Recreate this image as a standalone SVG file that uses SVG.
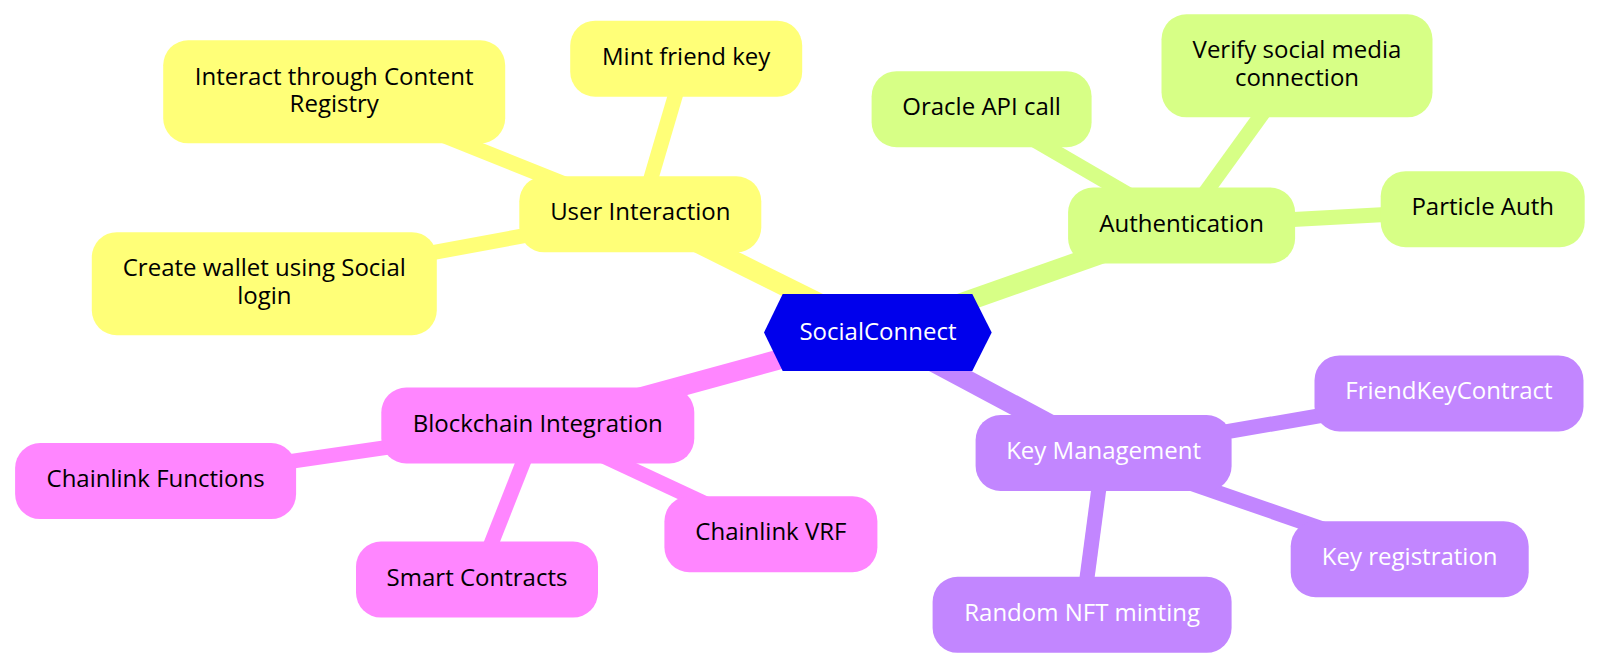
<svg xmlns="http://www.w3.org/2000/svg" width="1600" height="668" viewBox="0 0 1600 668">
<style>
  text { font-family: "Open Sans", "Noto Sans", "DejaVu Sans", sans-serif; font-size: 24px; text-anchor: middle; }
  .edge { fill: none; stroke-linecap: butt; }
  .d1 { stroke-width: 20; }
  .d2 { stroke-width: 15; }
  .s1 { stroke: #ffff78; } .f1 { fill: #ffff78; }
  .s2 { stroke: #d7ff86; } .f2 { fill: #d7ff86; }
  .s3 { stroke: #c286ff; } .f3 { fill: #c286ff; }
  .s4 { stroke: #ff86ff; } .f4 { fill: #ff86ff; }
  .dark { fill: #000000; }
  .light { fill: #ffffff; }
</style>
<rect width="1600" height="668" fill="#ffffff"/>
<g id="connectors">
  <line class="edge d1 s1" x1="878" y1="332.5" x2="640.3" y2="214.3"/>
  <line class="edge d1 s2" x1="878" y1="332.5" x2="1181.6" y2="225.5"/>
  <line class="edge d1 s3" x1="878" y1="332.5" x2="1103.6" y2="453"/>
  <line class="edge d1 s4" x1="878" y1="332.5" x2="537.8" y2="425.5"/>
  <line class="edge d2 s1" x1="640.3" y1="214.3" x2="334.2" y2="91.8"/>
  <line class="edge d2 s1" x1="640.3" y1="214.3" x2="686.2" y2="58.7"/>
  <line class="edge d2 s1" x1="640.3" y1="214.3" x2="264.3" y2="283.7"/>
  <line class="edge d2 s2" x1="1181.6" y1="225.5" x2="981.6" y2="109.2"/>
  <line class="edge d2 s2" x1="1181.6" y1="225.5" x2="1297" y2="65.8"/>
  <line class="edge d2 s2" x1="1181.6" y1="225.5" x2="1482.7" y2="209.2"/>
  <line class="edge d2 s4" x1="537.8" y1="425.5" x2="155.6" y2="481.1"/>
  <line class="edge d2 s4" x1="537.8" y1="425.5" x2="477" y2="579.6"/>
  <line class="edge d2 s4" x1="537.8" y1="425.5" x2="770.9" y2="534.2"/>
  <line class="edge d2 s3" x1="1103.6" y1="453" x2="1449" y2="393.4"/>
  <line class="edge d2 s3" x1="1103.6" y1="453" x2="1409.7" y2="559.2"/>
  <line class="edge d2 s3" x1="1103.6" y1="453" x2="1082.1" y2="614.8"/>
</g>
<g id="root">
  <polygon points="764,332.5 782.7,294 972.3,294 991.7,332.5 972.3,371 782.7,371" fill="#0000ec"/>
  <text class="light" x="878" y="339.5">SocialConnect</text>
</g>
<g id="user-interaction">
  <rect class="f1" x="519.3" y="176.3" width="242" height="76" rx="25"/>
  <text class="dark" x="640.3" y="220.3">User Interaction</text>
</g>
<g id="interact-content-registry">
  <rect class="f1" x="163.2" y="40.3" width="342" height="103" rx="25"/>
  <text class="dark" x="334.2" y="84.5">Interact through Content</text>
  <text class="dark" x="334.2" y="112">Registry</text>
</g>
<g id="mint-friend-key">
  <rect class="f1" x="570.2" y="20.7" width="232" height="76" rx="25"/>
  <text class="dark" x="686.2" y="64.7">Mint friend key</text>
</g>
<g id="create-wallet">
  <rect class="f1" x="91.8" y="232.2" width="345" height="103" rx="25"/>
  <text class="dark" x="264.3" y="276.3">Create wallet using Social</text>
  <text class="dark" x="264.3" y="303.8">login</text>
</g>
<g id="authentication">
  <rect class="f2" x="1068.1" y="187.5" width="227" height="76" rx="25"/>
  <text class="dark" x="1181.6" y="231.5">Authentication</text>
</g>
<g id="oracle-api-call">
  <rect class="f2" x="871.6" y="71.2" width="220" height="76" rx="25"/>
  <text class="dark" x="981.6" y="115.2">Oracle API call</text>
</g>
<g id="verify-social">
  <rect class="f2" x="1161.5" y="14.3" width="271" height="103" rx="25"/>
  <text class="dark" x="1297" y="58.4">Verify social media</text>
  <text class="dark" x="1297" y="85.9">connection</text>
</g>
<g id="particle-auth">
  <rect class="f2" x="1380.7" y="171.2" width="204" height="76" rx="25"/>
  <text class="dark" x="1482.7" y="215.2">Particle Auth</text>
</g>
<g id="blockchain-integration">
  <rect class="f4" x="381.3" y="387.5" width="313" height="76" rx="25"/>
  <text class="dark" x="537.8" y="431.5">Blockchain Integration</text>
</g>
<g id="chainlink-functions">
  <rect class="f4" x="15.1" y="443.1" width="281" height="76" rx="25"/>
  <text class="dark" x="155.6" y="487.1">Chainlink Functions</text>
</g>
<g id="smart-contracts">
  <rect class="f4" x="356" y="541.6" width="242" height="76" rx="25"/>
  <text class="dark" x="477" y="585.6">Smart Contracts</text>
</g>
<g id="chainlink-vrf">
  <rect class="f4" x="664.4" y="496.2" width="213" height="76" rx="25"/>
  <text class="dark" x="770.9" y="540.2">Chainlink VRF</text>
</g>
<g id="key-management">
  <rect class="f3" x="975.6" y="415" width="256" height="76" rx="25"/>
  <text class="light" x="1103.6" y="459">Key Management</text>
</g>
<g id="friendkeycontract">
  <rect class="f3" x="1314.5" y="355.4" width="269" height="76" rx="25"/>
  <text class="light" x="1449" y="399.4">FriendKeyContract</text>
</g>
<g id="key-registration">
  <rect class="f3" x="1290.7" y="521.2" width="238" height="76" rx="25"/>
  <text class="light" x="1409.7" y="565.2">Key registration</text>
</g>
<g id="random-nft-minting">
  <rect class="f3" x="932.6" y="576.8" width="299" height="76" rx="25"/>
  <text class="light" x="1082.1" y="620.8">Random NFT minting</text>
</g>
</svg>
